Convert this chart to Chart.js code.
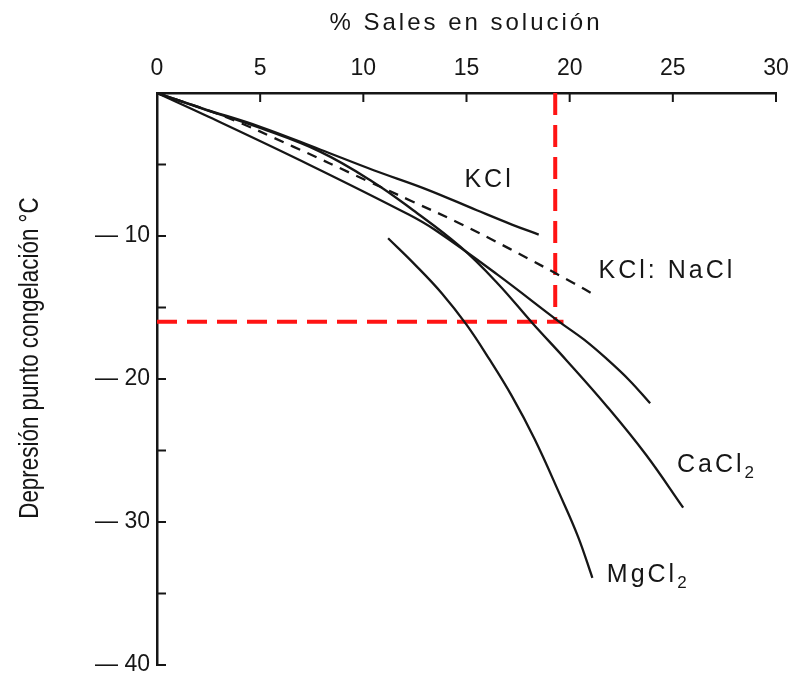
<!DOCTYPE html>
<html>
<head>
<meta charset="utf-8">
<script src="https://cdn.jsdelivr.net/npm/chart.js@4/dist/chart.umd.min.js"></script>
<style>
  html, body { margin: 0; padding: 0; background: #ffffff; }
  #wrap { width: 795px; height: 679px; }
</style>
</head>
<body>
<div id="wrap"><canvas id="chart" width="795" height="679"></canvas></div>
<script>
// ---- Freezing-point depression vs. salt concentration ----
const xTitle = '% Sales en solución';
const yTitle = 'Depresión punto congelación °C';

// Axis ticks
const xTicks = [0, 5, 10, 15, 20, 25, 30];
const yTicks = [0, -5, -10, -15, -20, -25, -30, -35, -40];
const yTickLabels = { '-10': '— 10', '-20': '— 20', '-30': '— 30', '-40': '— 40' };

// KCl
const kclX = [0, 2.2, 5, 7.9, 10.5, 13, 15.5, 17.2, 18.5];
const kclY = [0, -1.07, -2.36, -3.95, -5.4, -6.7, -8.2, -9.2, -9.9];

// KCl : NaCl mixture (dashed)
const mixX = [0, 3.3, 6.6, 10.1, 12.4, 14.5, 17.1, 20.2, 21.3];
const mixY = [0, -1.66, -3.75, -6.08, -7.6, -9.0, -10.9, -13.3, -14.2];

// NaCl
const naclX = [0, 2.5, 7.4, 12.2, 13.5, 16.5, 19.5, 20.7, 21.8, 22.9, 23.9];
const naclY = [0, -1.66, -5.03, -8.5, -9.6, -12.7, -16.0, -17.25, -18.6, -20.1, -21.7];

// CaCl2
const caclX = [0, 2.2, 5, 7.9, 10.45, 12.4, 14.7, 16.5, 18.2, 19.85, 21.8, 23.7, 25.5];
const caclY = [0, -1.1, -2.45, -4.1, -6.2, -8.18, -10.75, -13.3, -16.1, -18.7, -21.9, -25.3, -29.0];

// MgCl2
const mgclX = [11.2, 12.5, 13.8, 15, 16.1, 17.2, 18.3, 19.5, 20.4, 21.1];
const mgclY = [-10.16, -12.0, -14.0, -16.2, -18.6, -21.2, -24.2, -28.0, -31.0, -33.9];

// Reading guide (red dashed): concentration and temperature
const guideX = [19.3];
const guideY = [-16];

// Curve labels and their anchor (left, baseline) in data units
const curveNames = ['KCl', 'KCl: NaCl', 'CaCl', 'MgCl'];
const curveSubs  = ['', '', '2', '2'];
const labelX = [14.9, 21.4, 25.2, 21.8];
const labelY = [-6.6, -12.95, -26.5, -34.2];

const pts = (xs, ys) => xs.map((v, i) => ({ x: v, y: ys[i] }));

const FONT = '"Liberation Sans", Arial, Helvetica, sans-serif';
const INK = '#161616';

const curve = (data, dash) => ({
  data,
  showLine: true,
  borderColor: INK,
  borderWidth: 2.3,
  borderDash: dash || [],
  pointRadius: 0,
  tension: 0.4,
  fill: false
});

const overlay = {
  id: 'overlay',
  afterDatasetsDraw(chart) {
    const { ctx, chartArea: a, scales: { x, y } } = chart;
    ctx.save();

    // inward tick marks
    ctx.strokeStyle = INK;
    ctx.lineWidth = 2;
    xTicks.forEach(v => {
      if (v === 0) return;
      const px = x.getPixelForValue(v);
      ctx.beginPath(); ctx.moveTo(px, a.top); ctx.lineTo(px, a.top + 9); ctx.stroke();
    });
    yTicks.forEach(v => {
      if (v === 0) return;
      const py = y.getPixelForValue(v);
      ctx.beginPath(); ctx.moveTo(a.left, py); ctx.lineTo(a.left + 9, py); ctx.stroke();
    });

    // curve labels
    ctx.fillStyle = INK;
    ctx.textAlign = 'left';
    ctx.textBaseline = 'alphabetic';
    curveNames.forEach((name, i) => {
      const px = x.getPixelForValue(labelX[i]);
      const py = y.getPixelForValue(labelY[i]);
      ctx.font = '25px ' + FONT;
      ctx.letterSpacing = '3px';
      ctx.fillText(name, px, py);
      if (curveSubs[i]) {
        const w = ctx.measureText(name).width;
        ctx.font = '17px ' + FONT;
        ctx.fillText(curveSubs[i], px + w, py + 6);
      }
    });

    // axis titles
    ctx.font = '24px ' + FONT;
    ctx.letterSpacing = '3px';
    ctx.textAlign = 'center';
    ctx.fillText(xTitle, 466, 30);

    ctx.translate(30, 358);
    ctx.rotate(-Math.PI / 2);
    ctx.scale(0.8, 1);
    ctx.letterSpacing = '0px';
    ctx.font = '28px ' + FONT;
    ctx.textBaseline = 'middle';
    ctx.fillText(yTitle, 0, 0);
    ctx.restore();
  }
};

new Chart(document.getElementById('chart'), {
  type: 'scatter',
  data: {
    datasets: [
      curve(pts(kclX, kclY)),
      curve(pts(mixX, mixY), [10, 8]),
      curve(pts(naclX, naclY)),
      curve(pts(caclX, caclY)),
      curve(pts(mgclX, mgclY)),
      {
        data: [{ x: guideX[0], y: 0 }, { x: guideX[0], y: guideY[0] }],
        showLine: true, borderColor: '#ff1414', borderWidth: 4,
        borderDash: [22, 10], pointRadius: 0, fill: false
      },
      {
        data: [{ x: 0, y: guideY[0] }, { x: guideX[0] + 0.4, y: guideY[0] }],
        showLine: true, borderColor: '#ff1414', borderWidth: 4,
        borderDash: [20, 10], pointRadius: 0, fill: false
      }
    ]
  },
  options: {
    responsive: false,
    animation: false,
    devicePixelRatio: 1,
    layout: { padding: { left: 0, top: 0, right: 19, bottom: 14 } },
    plugins: { legend: { display: false }, tooltip: { enabled: false } },
    scales: {
      x: {
        type: 'linear',
        position: 'top',
        min: 0, max: 30,
        afterFit: s => { s.height = 93; s.paddingLeft = 0; s.paddingRight = 0; },
        afterBuildTicks: s => { s.ticks = xTicks.map(v => ({ value: v })); },
        grid: { display: false, drawTicks: false },
        border: { display: true, color: INK, width: 2.5 },
        ticks: {
          color: INK, padding: 11, maxRotation: 0, autoSkip: false,
          font: { family: FONT, size: 23 },
          callback: v => String(v)
        }
      },
      y: {
        type: 'linear',
        position: 'left',
        min: -40, max: 0,
        afterFit: s => { s.width = 157; s.paddingTop = 0; s.paddingBottom = 0; },
        afterBuildTicks: s => { s.ticks = yTicks.map(v => ({ value: v })); },
        grid: { display: false, drawTicks: false },
        border: { display: true, color: INK, width: 2.5 },
        ticks: {
          color: INK, padding: 7, autoSkip: false,
          font: { family: FONT, size: 23 },
          callback: v => yTickLabels[String(v)] || ''
        }
      }
    }
  },
  plugins: [overlay]
});
</script>
</body>
</html>
